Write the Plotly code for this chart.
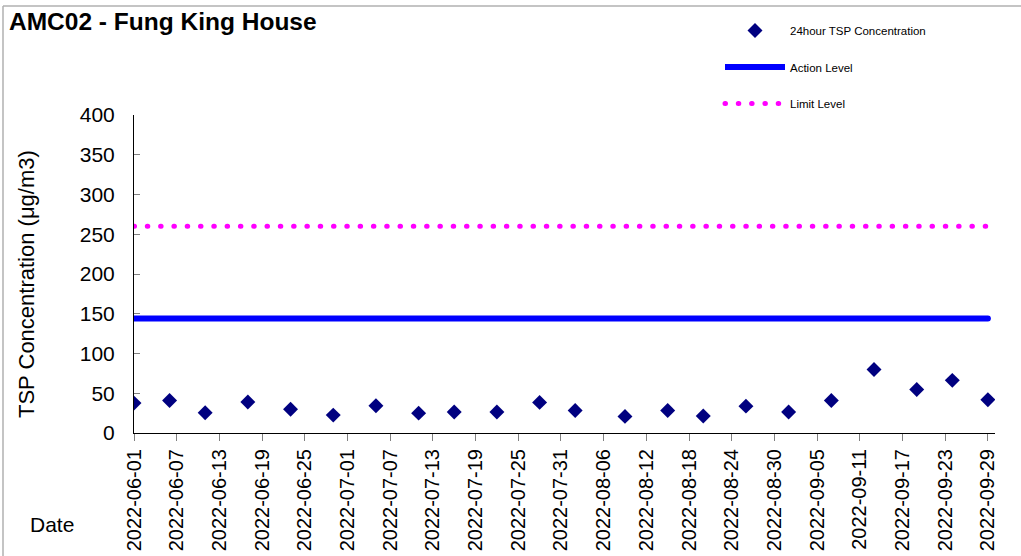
import plotly.graph_objects as go

# ---- data ----
dates = ["2022-06-01", "2022-06-06", "2022-06-11", "2022-06-17", "2022-06-23", "2022-06-29",
         "2022-07-05", "2022-07-11", "2022-07-16", "2022-07-22", "2022-07-28", "2022-08-02",
         "2022-08-09", "2022-08-15", "2022-08-20", "2022-08-26", "2022-09-01", "2022-09-07",
         "2022-09-13", "2022-09-19", "2022-09-24", "2022-09-29"]
tsp = [37.6, 41.0, 25.5, 38.9, 30.0, 22.5, 34.3, 25.0, 26.3, 26.3, 38.5, 28.4,
       20.9, 28.4, 21.3, 33.8, 26.3, 41.0, 80.0, 54.8, 66.2, 41.9]
level_dates = ["2022-06-01", "2022-09-29"]
action_level = [144, 144]
limit_level = [260, 260]

W, H = 1021, 556
L, R, T, B = 134, 26, 115, 123
PW, PH = W - L - R, H - T - B

def px(x):
    return (x - L) / PW

def py(y):
    return (H - B - y) / PH

FONT = "Liberation Sans, Arial, sans-serif"

fig = go.Figure()
fig.add_trace(go.Scatter(
    x=dates, y=tsp, mode="markers", name="24hour TSP Concentration",
    marker=dict(symbol="diamond", size=11.5, color="#000080"),
    legendgroup="a"))
fig.add_trace(go.Scatter(
    x=level_dates, y=action_level, mode="lines", name="Action Level",
    line=dict(color="#0000FF", width=6), legendgroup="b"))
fig.add_trace(go.Scatter(
    x=level_dates, y=limit_level, mode="lines", name="Limit Level",
    line=dict(color="#FF00FF", width=5, dash="0.5px,12.8px"), legendgroup="c"))

fig.update_layout(
    width=W, height=H,
    margin=dict(l=L, r=R, t=T, b=B, autoexpand=False),
    paper_bgcolor="white", plot_bgcolor="white",
    font=dict(family=FONT, color="black"),
    showlegend=True,
    legend=dict(x=px(720), y=py(16), xanchor="left", yanchor="top",
                font=dict(size=11.5, family=FONT), itemwidth=60,
                tracegroupgap=17.5, bgcolor="rgba(0,0,0,0)"),
    xaxis=dict(
        type="date", range=["2022-06-01", "2022-09-30"], automargin=False,
        tick0="2022-06-01", dtick=6 * 86400000, tickformat="%Y-%m-%d",
        tickangle=-90, tickfont=dict(size=20, family=FONT),
        showgrid=False, zeroline=False, showline=True, linecolor="black", linewidth=1,
        ticks="outside", ticklen=7, tickcolor="#808080", tickwidth=1),
    yaxis=dict(
        range=[0, 400], dtick=50, tickfont=dict(size=21, family=FONT), automargin=False,
        ticklabelstandoff=14,
        showgrid=False, zeroline=False, showline=True, linecolor="black", linewidth=1,
        ticks="inside", ticklen=6, tickcolor="#808080", tickwidth=1),
    annotations=[
        dict(text="<b>AMC02 - Fung King House</b>", xref="paper", yref="paper",
             x=px(7), y=py(6), xanchor="left", yanchor="top", showarrow=False,
             font=dict(size=24.5, family=FONT)),
        dict(text="TSP Concentration (μg/m3)", xref="paper", yref="paper",
             x=px(26), y=py(284), xanchor="center", yanchor="middle", showarrow=False,
             textangle=-90, font=dict(size=22, family=FONT)),
        dict(text="Date", xref="paper", yref="paper",
             x=px(52), y=py(524), xanchor="center", yanchor="middle", showarrow=False,
             font=dict(size=21, family=FONT)),
    ],
    shapes=[
        dict(type="line", xref="paper", yref="paper", x0=px(3), x1=px(1021), y0=py(6), y1=py(6),
             line=dict(color="#b0b0b0", width=1.5)),
        dict(type="line", xref="paper", yref="paper", x0=px(3), x1=px(3), y0=py(6), y1=py(556),
             line=dict(color="#b0b0b0", width=1.5)),
    ],
)

post = (
    "document.body.style.margin='0';document.body.style.overflow='hidden';"
    "document.querySelectorAll('.scatterlayer path.js-line').forEach(function(p){"
    "p.style.strokeLinecap='round';});"
    "document.querySelectorAll('.legend path').forEach(function(p){"
    "if(p.style.strokeDasharray){p.style.strokeLinecap='round';}});"
)
fig.write_html("out.html", config={"displayModeBar": False}, post_script=post)
